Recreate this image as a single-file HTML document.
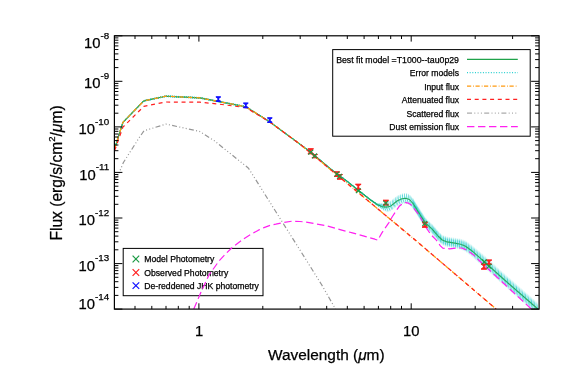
<!DOCTYPE html>
<html><head><meta charset="utf-8"><title>SED fit</title><style>text{stroke:#000;stroke-width:0.25px}html,body{margin:0;padding:0;background:#fff}body{width:573px;height:382px;overflow:hidden;position:relative;font-family:"Liberation Sans",sans-serif}</style></head><body>
<svg width="573" height="382" viewBox="0 0 573 382" style="position:absolute;left:0;top:0;opacity:0.999;will-change:transform;font-family:'Liberation Sans',sans-serif">
<rect width="573" height="382" fill="#fff"/>
<defs><clipPath id="c"><rect x="114.4" y="35.8" width="424.7" height="273.3"/></clipPath></defs>
<rect x="123.2" y="248.4" width="139.8" height="47.3" fill="none" stroke="#000" stroke-width="1.0"/>
<path d="M132.6 255.7 L139.2 262.3 M132.6 262.3 L139.2 255.7" stroke="#1b9a44" stroke-width="1.2" fill="none"/>
<text x="144.3" y="262.2" font-size="8.65">Model Photometry</text>
<path d="M132.6 269.2 L139.2 275.8 M132.6 275.8 L139.2 269.2" stroke="#ff2020" stroke-width="1.2" fill="none"/>
<text x="144.3" y="275.7" font-size="8.65">Observed Photometry</text>
<path d="M132.6 282.3 L139.2 288.9 M132.6 288.9 L139.2 282.3" stroke="#1010ff" stroke-width="1.2" fill="none"/>
<text x="144.3" y="288.8" font-size="8.65">De-reddened JHK photometry</text>
<g clip-path="url(#c)" fill="none" stroke-linejoin="round">
<path d="M114.7 179.0 L117.8 176.0 L123.4 162.5 L139.0 138.0 L144.0 130.8 L166.0 124.1 L199.5 131.4 L214.4 140.8 L248.5 168.2 L273.5 208.0 L301.5 252.5 L321.5 284.5 L335.5 309.0" stroke="#969696" stroke-width="1.2" stroke-dasharray="5 2.3 1 2.3 1 2.3 1 2.3"/>
<path d="M114.7 148.0 L122.9 121.9 L143.8 100.4 L165.8 95.7 L200.0 97.4 L218.3 101.0 L245.8 106.2 L269.8 121.4 L310.4 151.4 L330.0 168.0 L338.0 174.1 L345.0 179.1 L358.3 189.7 L370.0 199.0 L377.4 203.7 L383.5 203.7 L387.2 202.6 L390.9 201.1 L397.1 196.2 L402.0 194.0 L405.7 193.4 L409.4 194.7 L413.0 198.7" stroke="#20cccc" stroke-width="1.0" stroke-dasharray="0.9 1.1" opacity="0.30"/>
<path d="M413.0 198.7 L419.2 208.5 L425.2 217.8 L432.4 224.5 L438.5 231.7 L442.2 235.2 L447.1 237.1 L453.3 238.1 L460.7 239.2 L465.6 241.0 L471.7 245.3 L479.1 251.5 L484.0 255.5 L500.1 270.2 L537.8 303.2" stroke="#20cccc" stroke-width="1.0" stroke-dasharray="1.3 0.7" opacity="0.15"/>
<path d="M114.7 148.1 L122.9 122.0 L143.8 100.5 L165.8 95.8 L200.0 97.5 L218.3 101.1 L245.8 106.3 L269.8 121.5 L310.4 151.5 L330.0 168.1 L338.0 174.2 L345.0 179.2 L358.3 189.8 L370.0 199.1 L377.4 203.9 L383.5 204.2 L387.2 203.3 L390.9 201.9 L397.1 197.0 L402.0 194.8 L405.7 194.2 L409.4 195.5 L413.0 199.5" stroke="#20cccc" stroke-width="1.0" stroke-dasharray="0.9 1.1" opacity="0.55"/>
<path d="M413.0 199.5 L419.2 209.3 L425.2 218.6 L432.4 225.3 L438.5 232.5 L442.2 236.0 L447.1 237.9 L453.3 238.9 L460.7 240.0 L465.6 241.9 L471.7 246.2 L479.1 252.4 L484.0 256.5 L500.1 271.2 L537.8 304.2" stroke="#20cccc" stroke-width="1.0" stroke-dasharray="1.3 0.7" opacity="0.35"/>
<path d="M114.7 148.2 L122.9 122.1 L143.8 100.6 L165.8 95.9 L200.0 97.6 L218.3 101.2 L245.8 106.4 L269.8 121.6 L310.4 151.6 L330.0 168.2 L338.0 174.3 L345.0 179.3 L358.3 189.9 L370.0 199.2 L377.4 204.0 L383.5 204.8 L387.2 204.1 L390.9 202.7 L397.1 197.8 L402.0 195.6 L405.7 195.0 L409.4 196.3 L413.0 200.3" stroke="#20cccc" stroke-width="1.0" stroke-dasharray="0.9 1.1" opacity="0.70"/>
<path d="M413.0 200.3 L419.2 210.1 L425.2 219.4 L432.4 226.1 L438.5 233.3 L442.2 236.8 L447.1 238.7 L453.3 239.7 L460.7 240.9 L465.6 242.7 L471.7 247.1 L479.1 253.4 L484.0 257.5 L500.1 272.2 L537.8 305.2" stroke="#20cccc" stroke-width="1.0" stroke-dasharray="1.3 0.7" opacity="0.60"/>
<path d="M114.7 148.3 L122.9 122.2 L143.8 100.7 L165.8 96.0 L200.0 97.7 L218.3 101.3 L245.8 106.5 L269.8 121.7 L310.4 151.7 L330.0 168.3 L338.0 174.4 L345.0 179.4 L358.3 190.0 L370.0 199.3 L377.4 204.2 L383.5 205.3 L387.2 204.8 L390.9 203.5 L397.1 198.6 L402.0 196.4 L405.7 195.8 L409.4 197.1 L413.0 201.1" stroke="#20cccc" stroke-width="1.0" stroke-dasharray="0.9 1.1" opacity="0.80"/>
<path d="M413.0 201.1 L419.2 210.9 L425.2 220.2 L432.4 226.9 L438.5 234.1 L442.2 237.6 L447.1 239.5 L453.3 240.5 L460.7 241.7 L465.6 243.6 L471.7 248.0 L479.1 254.3 L484.0 258.4 L500.1 273.1 L537.8 306.1" stroke="#20cccc" stroke-width="1.0" stroke-dasharray="1.3 0.7" opacity="0.80"/>
<path d="M114.7 148.3 L122.9 122.2 L143.8 100.7 L165.8 96.0 L200.0 97.7 L218.3 101.3 L245.8 106.5 L269.8 121.7 L310.4 151.7 L330.0 168.3 L338.0 174.4 L345.0 179.4 L358.3 190.0 L370.0 199.3 L377.4 204.4 L383.5 205.8 L387.2 205.6 L390.9 204.3 L397.1 199.4 L402.0 197.2 L405.7 196.6 L409.4 197.9 L413.0 201.9" stroke="#20cccc" stroke-width="1.0" stroke-dasharray="0.9 1.1" opacity="0.80"/>
<path d="M413.0 201.9 L419.2 211.7 L425.2 221.0 L432.4 227.7 L438.5 234.9 L442.2 238.4 L447.1 240.3 L453.3 241.3 L460.7 242.5 L465.6 244.5 L471.7 248.9 L479.1 255.3 L484.0 259.4 L500.1 274.1 L537.8 307.1" stroke="#20cccc" stroke-width="1.0" stroke-dasharray="1.3 0.7" opacity="0.85"/>
<path d="M114.7 148.4 L122.9 122.3 L143.8 100.8 L165.8 96.1 L200.0 97.8 L218.3 101.4 L245.8 106.6 L269.8 121.8 L310.4 151.8 L330.0 168.4 L338.0 174.5 L345.0 179.5 L358.3 190.1 L370.0 199.4 L377.4 204.5 L383.5 206.4 L387.2 206.3 L390.9 205.1 L397.1 200.2 L402.0 198.0 L405.7 197.4 L409.4 198.7 L413.0 202.7" stroke="#20cccc" stroke-width="1.0" stroke-dasharray="0.9 1.1" opacity="0.80"/>
<path d="M413.0 202.7 L419.2 212.5 L425.2 221.8 L432.4 228.5 L438.5 235.7 L442.2 239.2 L447.1 241.1 L453.3 242.1 L460.7 243.4 L465.6 245.3 L471.7 249.8 L479.1 256.2 L484.0 260.3 L500.1 275.0 L537.8 308.0" stroke="#20cccc" stroke-width="1.0" stroke-dasharray="1.3 0.7" opacity="0.85"/>
<path d="M114.7 148.6 L122.9 122.5 L143.8 101.0 L165.8 96.3 L200.0 98.0 L218.3 101.6 L245.8 106.8 L269.8 122.0 L310.4 152.0 L330.0 168.6 L338.0 174.7 L345.0 179.7 L358.3 190.3 L370.0 199.6 L377.4 204.9 L383.5 207.4 L387.2 207.9 L390.9 206.7 L397.1 201.8 L402.0 199.6 L405.7 199.0 L409.4 200.3 L413.0 204.3" stroke="#20cccc" stroke-width="1.0" stroke-dasharray="0.9 1.1" opacity="0.80"/>
<path d="M413.0 204.3 L419.2 214.1 L425.2 223.4 L432.4 230.1 L438.5 237.3 L442.2 240.8 L447.1 242.7 L453.3 243.7 L460.7 245.0 L465.6 247.1 L471.7 251.6 L479.1 258.2 L484.0 262.3 L500.1 277.0 L537.8 310.0" stroke="#20cccc" stroke-width="1.0" stroke-dasharray="1.3 0.7" opacity="0.85"/>
<path d="M114.7 148.7 L122.9 122.6 L143.8 101.1 L165.8 96.4 L200.0 98.1 L218.3 101.7 L245.8 106.9 L269.8 122.1 L310.4 152.1 L330.0 168.7 L338.0 174.8 L345.0 179.8 L358.3 190.4 L370.0 199.7 L377.4 205.0 L383.5 208.0 L387.2 208.6 L390.9 207.5 L397.1 202.6 L402.0 200.4 L405.7 199.8 L409.4 201.1 L413.0 205.1" stroke="#20cccc" stroke-width="1.0" stroke-dasharray="0.9 1.1" opacity="0.80"/>
<path d="M413.0 205.1 L419.2 214.9 L425.2 224.2 L432.4 230.9 L438.5 238.1 L442.2 241.6 L447.1 243.5 L453.3 244.5 L460.7 245.9 L465.6 247.9 L471.7 252.5 L479.1 259.1 L484.0 263.2 L500.1 277.9 L537.8 310.9" stroke="#20cccc" stroke-width="1.0" stroke-dasharray="1.3 0.7" opacity="0.85"/>
<path d="M114.7 148.7 L122.9 122.6 L143.8 101.1 L165.8 96.4 L200.0 98.1 L218.3 101.7 L245.8 106.9 L269.8 122.1 L310.4 152.1 L330.0 168.7 L338.0 174.8 L345.0 179.8 L358.3 190.4 L370.0 199.7 L377.4 205.2 L383.5 208.5 L387.2 209.4 L390.9 208.3 L397.1 203.4 L402.0 201.2 L405.7 200.6 L409.4 201.9 L413.0 205.9" stroke="#20cccc" stroke-width="1.0" stroke-dasharray="0.9 1.1" opacity="0.80"/>
<path d="M413.0 205.9 L419.2 215.7 L425.2 225.0 L432.4 231.7 L438.5 238.9 L442.2 242.4 L447.1 244.3 L453.3 245.3 L460.7 246.7 L465.6 248.8 L471.7 253.4 L479.1 260.1 L484.0 264.2 L500.1 278.9 L537.8 311.9" stroke="#20cccc" stroke-width="1.0" stroke-dasharray="1.3 0.7" opacity="0.80"/>
<path d="M114.7 148.8 L122.9 122.7 L143.8 101.2 L165.8 96.5 L200.0 98.2 L218.3 101.8 L245.8 107.0 L269.8 122.2 L310.4 152.2 L330.0 168.8 L338.0 174.9 L345.0 179.9 L358.3 190.5 L370.0 199.8 L377.4 205.4 L383.5 209.0 L387.2 210.1 L390.9 209.1 L397.1 204.2 L402.0 202.0 L405.7 201.4 L409.4 202.7 L413.0 206.7" stroke="#20cccc" stroke-width="1.0" stroke-dasharray="0.9 1.1" opacity="0.70"/>
<path d="M413.0 206.7 L419.2 216.5 L425.2 225.8 L432.4 232.5 L438.5 239.7 L442.2 243.2 L447.1 245.1 L453.3 246.1 L460.7 247.5 L465.6 249.7 L471.7 254.3 L479.1 261.0 L484.0 265.1 L500.1 279.8 L537.8 312.8" stroke="#20cccc" stroke-width="1.0" stroke-dasharray="1.3 0.7" opacity="0.60"/>
<path d="M114.7 148.9 L122.9 122.8 L143.8 101.3 L165.8 96.6 L200.0 98.3 L218.3 101.9 L245.8 107.1 L269.8 122.3 L310.4 152.3 L330.0 168.9 L338.0 175.0 L345.0 180.0 L358.3 190.6 L370.0 199.9 L377.4 205.5 L383.5 209.6 L387.2 210.9 L390.9 209.9 L397.1 205.0 L402.0 202.8 L405.7 202.2 L409.4 203.5 L413.0 207.5" stroke="#20cccc" stroke-width="1.0" stroke-dasharray="0.9 1.1" opacity="0.55"/>
<path d="M413.0 207.5 L419.2 217.3 L425.2 226.6 L432.4 233.3 L438.5 240.5 L442.2 244.0 L447.1 245.9 L453.3 246.9 L460.7 248.4 L465.6 250.5 L471.7 255.2 L479.1 262.0 L484.0 266.1 L500.1 280.8 L537.8 313.8" stroke="#20cccc" stroke-width="1.0" stroke-dasharray="1.3 0.7" opacity="0.35"/>
<path d="M114.7 149.0 L122.9 122.9 L143.8 101.4 L165.8 96.7 L200.0 98.4 L218.3 102.0 L245.8 107.2 L269.8 122.4 L310.4 152.4 L330.0 169.0 L338.0 175.1 L345.0 180.1 L358.3 190.7 L370.0 200.0 L377.4 205.7 L383.5 210.1 L387.2 211.6 L390.9 210.7 L397.1 205.8 L402.0 203.6 L405.7 203.0 L409.4 204.3 L413.0 208.3" stroke="#20cccc" stroke-width="1.0" stroke-dasharray="0.9 1.1" opacity="0.30"/>
<path d="M413.0 208.3 L419.2 218.1 L425.2 227.4 L432.4 234.1 L438.5 241.3 L442.2 244.8 L447.1 246.7 L453.3 247.7 L460.7 249.2 L465.6 251.4 L471.7 256.1 L479.1 262.9 L484.0 267.1 L500.1 281.8 L537.8 314.8" stroke="#20cccc" stroke-width="1.0" stroke-dasharray="1.3 0.7" opacity="0.15"/>
<path d="M193.8 309.0 L200.5 293.3 L209.0 275.0 L219.2 260.7 L224.2 255.3 L231.4 248.2 L235.5 245.0 L243.5 239.0 L249.0 235.4 L258.0 230.4 L264.0 227.6 L271.0 225.0 L275.8 224.2 L283.0 222.6 L291.8 221.2 L300.0 221.5 L304.9 222.0 L326.0 225.6 L340.0 229.6 L352.4 232.9 L374.9 239.2 L377.7 240.2 L381.9 232.9 L388.9 222.6 L392.1 217.0 L399.2 206.3 L402.5 203.6 L405.5 202.6 L408.5 203.2 L411.0 204.8 L418.8 214.6 L425.1 226.0 L430.7 234.4 L436.1 239.8 L440.4 245.8 L442.8 248.2 L449.6 248.8 L457.0 248.0 L461.9 248.0 L466.8 250.1 L473.0 254.4 L479.1 260.5 L500.1 280.0 L531.3 309.0" stroke="#ff20f0" stroke-width="1.2" stroke-dasharray="7.4 3.6"/>
<path d="M114.7 148.5 L122.9 122.4 L143.8 100.9 L165.8 96.2 L200.0 97.9 L218.3 101.5 L245.8 106.7 L269.8 121.9 L310.4 151.9 L330.0 168.5 L338.0 174.6 L345.0 179.6 L358.3 190.2 L370.0 199.5 L377.4 204.7 L383.5 206.9 L387.2 207.1 L390.9 205.9 L397.1 201.0 L402.0 198.8 L405.7 198.2 L409.4 199.5 L413.0 203.5 L419.2 213.3 L425.2 222.6 L432.4 229.3 L438.5 236.5 L442.2 240.0 L447.1 241.9 L453.3 242.9 L460.7 244.2 L465.6 246.2 L471.7 250.7 L479.1 257.2 L484.0 261.3 L500.1 276.0 L537.8 309.0" stroke="#1fa24a" stroke-width="1.1"/>
<path d="M114.7 148.5 L122.9 122.4 L143.8 100.9 L165.8 96.2 L200.0 97.9 L218.3 101.5 L245.8 106.7 L269.8 121.9 L310.4 151.9 L330.0 168.5 L338.0 174.6 L345.0 179.6 L358.3 190.2 L370.0 199.5 L377.4 204.7 L383.5 206.9 L387.2 207.1 L390.9 205.9 L397.1 201.0 L402.0 198.8 L405.7 198.2 L409.4 199.5 L413.0 203.5 L419.2 213.3 L425.2 222.6 L432.4 229.3 L438.5 236.5 L442.2 240.0 L447.1 241.9 L453.3 242.9 L460.7 244.2 L465.6 246.2 L471.7 250.7 L479.1 257.2 L484.0 261.3 L500.1 276.0 L537.8 309.0" stroke="#28d0d0" stroke-width="1.0" stroke-dasharray="0.9 1.1" opacity="0.5"/>
<path d="M114.7 148.5 L122.9 122.4 L143.8 100.9 L165.8 96.2 L200.0 97.9 L218.3 101.5 L245.8 106.7 L269.8 121.9 L300.0 144.2 L415.2 240.0 L496.0 309.0" stroke="#ff9a10" stroke-width="1.3" stroke-dasharray="4.2 2 0.8 1.5"/>
<path d="M114.7 150.5 L122.9 127.1 L143.8 106.4 L165.8 102.0 L200.0 102.2 L218.8 104.1 L245.8 107.6 L269.8 122.1 L300.0 144.2 L415.2 240.0 L496.0 309.0" stroke="#ff2020" stroke-width="1.2" stroke-dasharray="4 3.7"/>
</g>
<path d="M307.9 148.8 H313.5 M307.9 153.6 H313.5 M310.7 148.8 V153.6" stroke="#ff2020" stroke-width="1.2" fill="none"/><path d="M307.9 148.8 L313.5 148.8 L307.9 153.6 L313.5 153.6 Z" fill="#ff2020" stroke="#ff2020" stroke-width="0.6"/>
<path d="M311.9 154.5 H317.5 M311.9 157.7 H317.5 M314.7 154.5 V157.7" stroke="#ff2020" stroke-width="1.2" fill="none"/><path d="M311.9 154.5 L317.5 154.5 L311.9 157.7 L317.5 157.7 Z" fill="#ff2020" stroke="#ff2020" stroke-width="0.6"/>
<path d="M334.1 171.9 H339.7 M334.1 176.5 H339.7 M336.9 171.9 V176.5" stroke="#ff2020" stroke-width="1.2" fill="none"/><path d="M334.1 171.9 L339.7 171.9 L334.1 176.5 L339.7 176.5 Z" fill="#ff2020" stroke="#ff2020" stroke-width="0.6"/>
<path d="M337.0 174.5 H342.6 M337.0 179.1 H342.6 M339.8 174.5 V179.1" stroke="#ff2020" stroke-width="1.2" fill="none"/><path d="M337.0 174.5 L342.6 174.5 L337.0 179.1 L342.6 179.1 Z" fill="#ff2020" stroke="#ff2020" stroke-width="0.6"/>
<path d="M355.5 184.3 H361.1 M355.5 189.5 H361.1 M358.3 184.3 V189.5" stroke="#ff2020" stroke-width="1.2" fill="none"/><path d="M355.5 184.3 L361.1 184.3 L355.5 189.5 L361.1 189.5 Z" fill="#ff2020" stroke="#ff2020" stroke-width="0.6"/>
<path d="M383.0 200.3 H388.6 M383.0 204.9 H388.6 M385.8 200.3 V204.9" stroke="#ff2020" stroke-width="1.2" fill="none"/><path d="M383.0 200.3 L388.6 200.3 L383.0 204.9 L388.6 204.9 Z" fill="#ff2020" stroke="#ff2020" stroke-width="0.6"/>
<path d="M422.0 222.4 H427.6 M422.0 227.2 H427.6 M424.8 222.4 V227.2" stroke="#ff2020" stroke-width="1.2" fill="none"/><path d="M422.0 222.4 L427.6 222.4 L422.0 227.2 L427.6 227.2 Z" fill="#ff2020" stroke="#ff2020" stroke-width="0.6"/>
<path d="M486.2 260.0 H491.8 M486.2 264.4 H491.8 M489.0 260.0 V264.4" stroke="#ff2020" stroke-width="1.2" fill="none"/><path d="M486.2 260.0 L491.8 260.0 L486.2 264.4 L491.8 264.4 Z" fill="#ff2020" stroke="#ff2020" stroke-width="0.6"/>
<path d="M481.1 264.1 H486.7 M481.1 269.1 H486.7 M483.9 264.1 V269.1" stroke="#ff2020" stroke-width="1.2" fill="none"/><path d="M481.1 264.1 L486.7 264.1 L481.1 269.1 L486.7 269.1 Z" fill="#ff2020" stroke="#ff2020" stroke-width="0.6"/>
<path d="M308.3 149.8 L313.1 154.6 M308.3 154.6 L313.1 149.8" stroke="#1b9a44" stroke-width="1.2" fill="none"/>
<path d="M312.2 153.5 L317.0 158.3 M312.2 158.3 L317.0 153.5" stroke="#1b9a44" stroke-width="1.2" fill="none"/>
<path d="M334.5 171.6 L339.3 176.4 M334.5 176.4 L339.3 171.6" stroke="#1b9a44" stroke-width="1.2" fill="none"/>
<path d="M337.1 173.8 L341.9 178.6 M337.1 178.6 L341.9 173.8" stroke="#1b9a44" stroke-width="1.2" fill="none"/>
<path d="M355.9 188.3 L360.7 193.1 M355.9 193.1 L360.7 188.3" stroke="#1b9a44" stroke-width="1.2" fill="none"/>
<path d="M383.4 200.9 L388.2 205.7 M383.4 205.7 L388.2 200.9" stroke="#1b9a44" stroke-width="1.2" fill="none"/>
<path d="M422.4 221.1 L427.2 225.9 M422.4 225.9 L427.2 221.1" stroke="#1b9a44" stroke-width="1.2" fill="none"/>
<path d="M481.8 259.5 L486.6 264.3 M481.8 264.3 L486.6 259.5" stroke="#1b9a44" stroke-width="1.2" fill="none"/>
<path d="M486.6 263.8 L491.4 268.6 M486.6 268.6 L491.4 263.8" stroke="#1b9a44" stroke-width="1.2" fill="none"/>
<path d="M215.9 96.9 H220.7 M215.9 101.3 H220.7 M218.3 96.9 V101.3" stroke="#1010ff" stroke-width="1.2" fill="none"/><path d="M215.9 96.9 L220.7 96.9 L215.9 101.3 L220.7 101.3 Z" fill="#1010ff" stroke="#1010ff" stroke-width="0.6"/>
<path d="M243.4 103.2 H248.2 M243.4 107.6 H248.2 M245.8 103.2 V107.6" stroke="#1010ff" stroke-width="1.2" fill="none"/><path d="M243.4 103.2 L248.2 103.2 L243.4 107.6 L248.2 107.6 Z" fill="#1010ff" stroke="#1010ff" stroke-width="0.6"/>
<path d="M267.4 117.9 H272.2 M267.4 122.3 H272.2 M269.8 117.9 V122.3" stroke="#1010ff" stroke-width="1.2" fill="none"/><path d="M267.4 117.9 L272.2 117.9 L267.4 122.3 L272.2 122.3 Z" fill="#1010ff" stroke="#1010ff" stroke-width="0.6"/>
<rect x="114.4" y="35.8" width="424.7" height="273.3" fill="none" stroke="#000" stroke-width="1.2"/>
<path d="M114.4 309.1 h8 M539.1 309.1 h-8 M114.4 295.4 h4 M539.1 295.4 h-4 M114.4 287.4 h4 M539.1 287.4 h-4 M114.4 281.7 h4 M539.1 281.7 h-4 M114.4 277.3 h4 M539.1 277.3 h-4 M114.4 273.7 h4 M539.1 273.7 h-4 M114.4 270.6 h4 M539.1 270.6 h-4 M114.4 268.0 h4 M539.1 268.0 h-4 M114.4 265.6 h4 M539.1 265.6 h-4 M114.4 263.6 h8 M539.1 263.6 h-8 M114.4 249.8 h4 M539.1 249.8 h-4 M114.4 241.8 h4 M539.1 241.8 h-4 M114.4 236.1 h4 M539.1 236.1 h-4 M114.4 231.7 h4 M539.1 231.7 h-4 M114.4 228.1 h4 M539.1 228.1 h-4 M114.4 225.1 h4 M539.1 225.1 h-4 M114.4 222.4 h4 M539.1 222.4 h-4 M114.4 220.1 h4 M539.1 220.1 h-4 M114.4 218.0 h8 M539.1 218.0 h-8 M114.4 204.3 h4 M539.1 204.3 h-4 M114.4 196.3 h4 M539.1 196.3 h-4 M114.4 190.6 h4 M539.1 190.6 h-4 M114.4 186.2 h4 M539.1 186.2 h-4 M114.4 182.6 h4 M539.1 182.6 h-4 M114.4 179.5 h4 M539.1 179.5 h-4 M114.4 176.9 h4 M539.1 176.9 h-4 M114.4 174.5 h4 M539.1 174.5 h-4 M114.4 172.4 h8 M539.1 172.4 h-8 M114.4 158.7 h4 M539.1 158.7 h-4 M114.4 150.7 h4 M539.1 150.7 h-4 M114.4 145.0 h4 M539.1 145.0 h-4 M114.4 140.6 h4 M539.1 140.6 h-4 M114.4 137.0 h4 M539.1 137.0 h-4 M114.4 134.0 h4 M539.1 134.0 h-4 M114.4 131.3 h4 M539.1 131.3 h-4 M114.4 129.0 h4 M539.1 129.0 h-4 M114.4 126.9 h8 M539.1 126.9 h-8 M114.4 113.2 h4 M539.1 113.2 h-4 M114.4 105.2 h4 M539.1 105.2 h-4 M114.4 99.5 h4 M539.1 99.5 h-4 M114.4 95.1 h4 M539.1 95.1 h-4 M114.4 91.5 h4 M539.1 91.5 h-4 M114.4 88.4 h4 M539.1 88.4 h-4 M114.4 85.8 h4 M539.1 85.8 h-4 M114.4 83.4 h4 M539.1 83.4 h-4 M114.4 81.3 h8 M539.1 81.3 h-8 M114.4 67.6 h4 M539.1 67.6 h-4 M114.4 59.6 h4 M539.1 59.6 h-4 M114.4 53.9 h4 M539.1 53.9 h-4 M114.4 49.5 h4 M539.1 49.5 h-4 M114.4 45.9 h4 M539.1 45.9 h-4 M114.4 42.9 h4 M539.1 42.9 h-4 M114.4 40.2 h4 M539.1 40.2 h-4 M114.4 37.9 h4 M539.1 37.9 h-4 M114.4 35.8 h8 M539.1 35.8 h-8 M135.0 309.1 v-3.2 M135.0 35.8 v3.2 M151.8 309.1 v-3.2 M151.8 35.8 v3.2 M166.0 309.1 v-3.2 M166.0 35.8 v3.2 M178.3 309.1 v-3.2 M178.3 35.8 v3.2 M189.2 309.1 v-3.2 M189.2 35.8 v3.2 M198.9 309.1 v-5.8 M198.9 35.8 v5.8 M262.8 309.1 v-3.2 M262.8 35.8 v3.2 M300.2 309.1 v-3.2 M300.2 35.8 v3.2 M326.7 309.1 v-3.2 M326.7 35.8 v3.2 M347.3 309.1 v-3.2 M347.3 35.8 v3.2 M364.1 309.1 v-3.2 M364.1 35.8 v3.2 M378.4 309.1 v-3.2 M378.4 35.8 v3.2 M390.7 309.1 v-3.2 M390.7 35.8 v3.2 M401.5 309.1 v-3.2 M401.5 35.8 v3.2 M411.2 309.1 v-5.8 M411.2 35.8 v5.8 M475.2 309.1 v-3.2 M475.2 35.8 v3.2 M512.6 309.1 v-3.2 M512.6 35.8 v3.2" stroke="#000" stroke-width="1.0" fill="none"/>
<text x="109.2" y="270.7" text-anchor="end" font-size="14.8">10<tspan dy="-9.3" font-size="9.8">-13</tspan></text>
<text x="109.2" y="225.1" text-anchor="end" font-size="14.8">10<tspan dy="-9.3" font-size="9.8">-12</tspan></text>
<text x="109.2" y="179.5" text-anchor="end" font-size="14.8">10<tspan dy="-9.3" font-size="9.8">-11</tspan></text>
<text x="109.2" y="134.0" text-anchor="end" font-size="14.8">10<tspan dy="-9.3" font-size="9.8">-10</tspan></text>
<text x="109.2" y="88.4" text-anchor="end" font-size="14.8">10<tspan dy="-9.3" font-size="9.8">-9</tspan></text>
<text x="109.2" y="48.2" text-anchor="end" font-size="14.8">10<tspan dy="-9.3" font-size="9.8">-8</tspan></text>
<text x="109.2" y="309.0" text-anchor="end" font-size="14.8">10<tspan dy="-9.3" font-size="9.8">-14</tspan></text>
<text x="199" y="336.3" text-anchor="middle" font-size="14.8">1</text>
<text x="411.2" y="336.3" text-anchor="middle" font-size="14.8">10</text>
<text x="326.3" y="360" text-anchor="middle" font-size="15.4">Wavelength (<tspan font-style="italic">μ</tspan>m)</text>
<text transform="translate(62,173) rotate(-90)" text-anchor="middle" font-size="15.6">Flux (erg/s/cm<tspan dy="-7" font-size="9.5">2</tspan><tspan dy="7">/</tspan><tspan font-style="italic">μ</tspan>m)</text>
<rect x="332.7" y="49.6" width="197.5" height="86.6" fill="#fff" stroke="#000" stroke-width="1.0"/>
<text x="459" y="62.9" text-anchor="end" font-size="8.75">Best fit model =T1000--tau0p29</text>
<path d="M467 59.3 H517.8" stroke="#1fa24a" stroke-width="1.3" fill="none"/>
<text x="459" y="76.3" text-anchor="end" font-size="8.6">Error models</text>
<path d="M467 72.7 H517.8" stroke="#28d0d0" stroke-width="1.3" fill="none" stroke-dasharray="1 1.65"/>
<text x="459" y="89.8" text-anchor="end" font-size="8.6">Input flux</text>
<path d="M467 86.2 H517.8" stroke="#ff9a10" stroke-width="1.3" fill="none" stroke-dasharray="4.2 2 0.8 1.5"/>
<text x="459" y="103.0" text-anchor="end" font-size="8.6">Attenuated flux</text>
<path d="M467 99.4 H517.8" stroke="#ff2020" stroke-width="1.2" fill="none" stroke-dasharray="4 3.7"/>
<text x="459" y="116.7" text-anchor="end" font-size="8.6">Scattered flux</text>
<path d="M467 113.1 H517.8" stroke="#969696" stroke-width="1.0" fill="none" stroke-dasharray="5 2.3 1 2.3 1 2.3 1 2.3"/>
<text x="459" y="130.2" text-anchor="end" font-size="8.6">Dust emission flux</text>
<path d="M467 126.6 H517.8" stroke="#ff20f0" stroke-width="1.3" fill="none" stroke-dasharray="7.4 3.6"/>
</svg>
</body></html>
